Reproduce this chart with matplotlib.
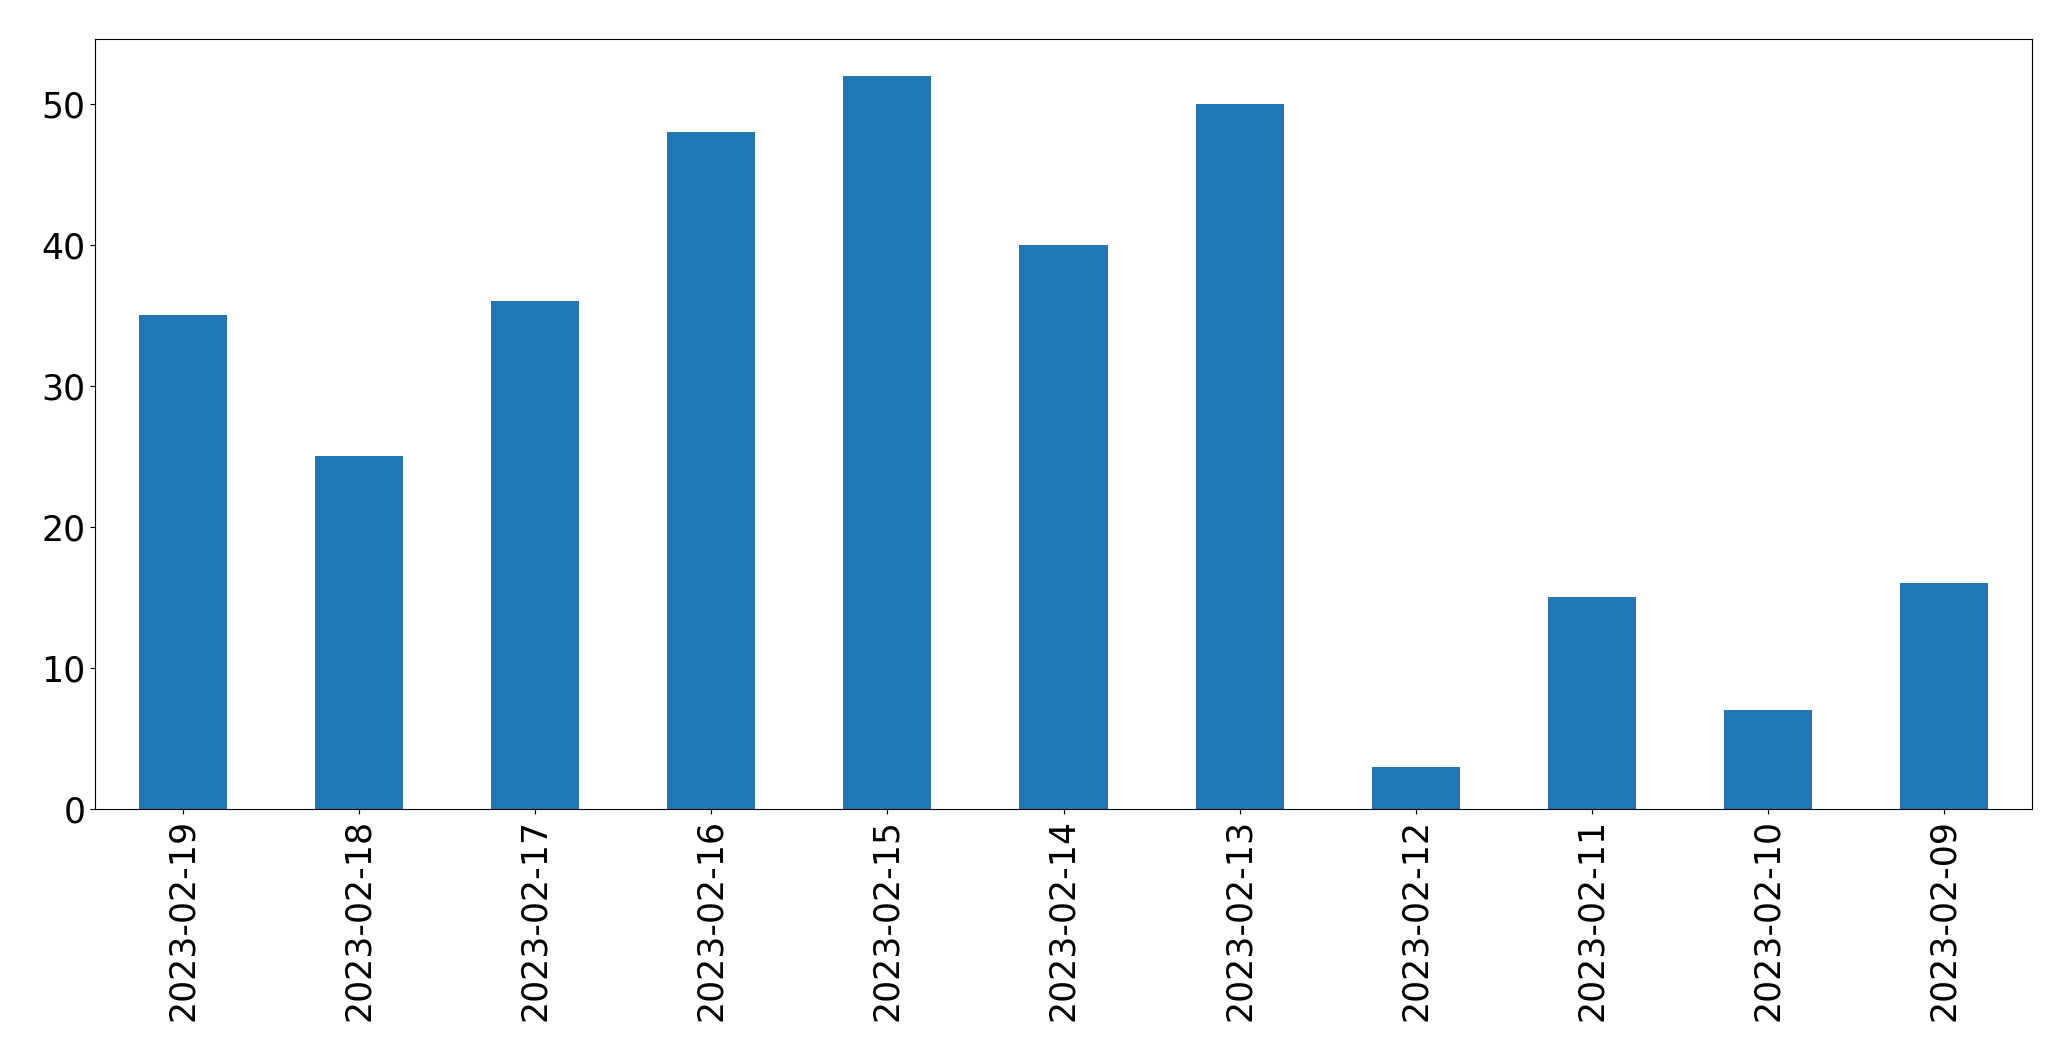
import matplotlib
matplotlib.use("Agg")
import matplotlib.pyplot as plt
import numpy as np

# fechas y cantidades
fechas = ["2023-02-19", "2023-02-18", "2023-02-17", "2023-02-16", "2023-02-15",
          "2023-02-14", "2023-02-13", "2023-02-12", "2023-02-11", "2023-02-10",
          "2023-02-09"]
cantidades = [35, 25, 36, 48, 52, 40, 50, 3, 15, 7, 16]

W, H = 2071, 1061
fig = plt.figure(figsize=(W / 100, H / 100), dpi=100)
ax = fig.add_axes([95 / W, 1 - 809 / H, (2032 - 95) / W, (809 - 39) / H])

x = np.arange(len(fechas))
ax.bar(x, cantidades, width=0.5, color="#1f77b4")
ax.set_xlim(-0.5, len(fechas) - 0.5)
ax.set_ylim(0, max(cantidades) * 1.05)
ax.set_xticks(x)
ax.set_xticklabels(fechas, rotation=90)
ax.set_yticks([0, 10, 20, 30, 40, 50])
ax.tick_params(labelsize=25)

fig.savefig("out.png", dpi=100)
